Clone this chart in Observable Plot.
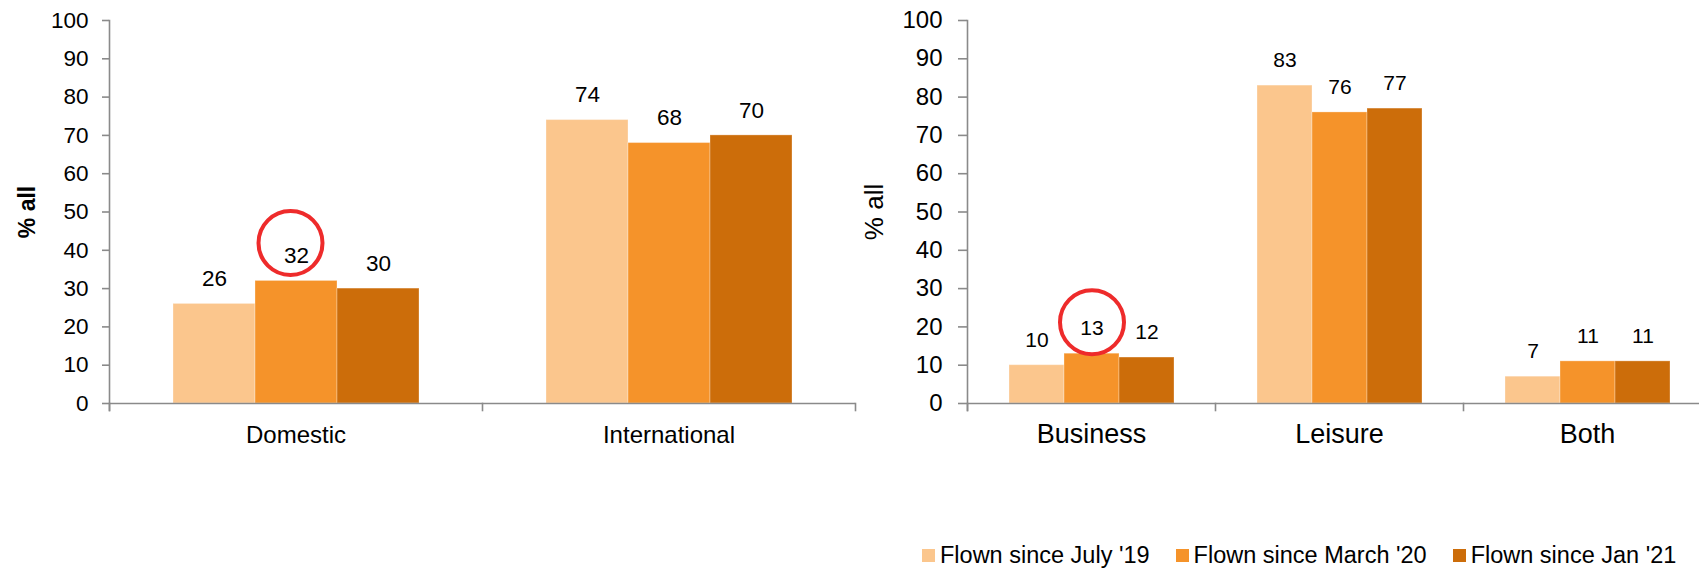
<!DOCTYPE html>
<html>
<head>
<meta charset="utf-8">
<script src="https://cdn.jsdelivr.net/npm/d3@7"></script>
<script src="https://cdn.jsdelivr.net/npm/@observablehq/plot@0.6"></script>
<style>
  html, body { margin: 0; padding: 0; background: white; overflow: hidden; }
  #wrap { position: relative; width: 1699px; height: 569px; overflow: hidden; background: white;
          font-family: "Liberation Sans", Arial, sans-serif; }
  #left { position: absolute; left: 0; top: 0; width: 860px; }
  #right { position: absolute; left: 850px; top: 0; width: 849px; }
  #left g[aria-label="y-axis label"] text { font-weight: bold; font-size: 23px; }
  #right g[aria-label="y-axis label"] text { font-weight: normal; font-size: 26px; }
  #legend { position: absolute; left: 922px; top: 542px; display: flex; align-items: center;
            font-size: 23.5px; color: black; white-space: nowrap; }
  #legend .item { display: flex; align-items: center; margin-right: 26px; }
  #legend .sw { width: 13px; height: 13px; margin-right: 5px; }
</style>
</head>
<body>
<div id="wrap">
  <div id="left"></div>
  <div id="right"></div>
  <div id="legend"></div>
</div>
<script>
// ---- data ----
const seriesNames = ["Flown since July '19", "Flown since March '20", "Flown since Jan '21"];
const seriesColors = ["#FBC68D", "#F5932A", "#CC6D0A"];

const tripCats = ["Domestic", "International"];
const tripJuly19 = [26, 74];
const tripMarch20 = [32, 68];
const tripJan21 = [30, 70];

const purposeCats = ["Business", "Leisure", "Both"];
const purposeJuly19 = [10, 83, 7];
const purposeMarch20 = [13, 76, 11];
const purposeJan21 = [12, 77, 11];

const yTicks = [0, 10, 20, 30, 40, 50, 60, 70, 80, 90, 100];
const yLabel = "% all";

const tripHighlight = [{cat: "Domestic", series: "Flown since March '20"}];
const purposeHighlight = [{cat: "Business", series: "Flown since March '20"}];

// ---- helpers ----
function buildTable(cats, seriesValues) {
  const rows = [];
  cats.forEach((c, i) => {
    seriesNames.forEach((s, j) => rows.push({cat: c, series: s, value: seriesValues[j][i]}));
  });
  return rows;
}
function withValues(hl, table) {
  return hl.map(h => table.find(r => r.cat === h.cat && r.series === h.series));
}

const axisColor = "#8A8A8A";
const plotTop = 20, plotBottom = 403, svgH = 460;
const innerH = plotBottom - plotTop;

function makeChart(o) {
  const data = buildTable(o.cats, o.values);
  const hl = withValues(o.highlight, data);
  const fxOpts = {domain: o.cats, padding: 0};
  if (o.fxRange) fxOpts.range = o.fxRange;
  const marks = [
    Plot.barY(data, {fx: "cat", x: "series", y: "value", fill: "series",
      stroke: "white", strokeOpacity: 0.3, strokeWidth: 1}),
    Plot.ruleY([0], {stroke: axisColor, strokeWidth: 1.6}),
    Plot.frame({anchor: "left", facetAnchor: "left", stroke: axisColor, strokeWidth: 1.6, insetBottom: -7}),
    Plot.frame({anchor: "left", stroke: axisColor, strokeWidth: 1.6, insetTop: innerH, insetBottom: -7}),
    Plot.axisY({ticks: yTicks, tickSize: o.tickSize, tickPadding: o.tickPadding,
      stroke: axisColor, strokeWidth: 1.6, fill: "black", fontSize: o.tickFont,
      label: yLabel, labelArrow: false, labelAnchor: "center", labelOffset: o.labelOffset}),
    Plot.axisFx({anchor: "bottom", tickSize: 0, tickPadding: o.catPadding, fontSize: o.catFont,
      fill: "black", label: null}),
    Plot.text(data, {fx: "cat", x: "series", y: "value", text: d => String(d.value),
      dy: -25, fontSize: o.valueFont, fill: "black"}),
    Plot.dot(hl, {fx: "cat", x: "series", y: "value", r: 32, fill: "none",
      stroke: "#EE2B2B", strokeWidth: 4, dx: o.hlDx, dy: o.hlDy})
  ];
  if (o.endTick) {
    marks.push(Plot.frame({anchor: "right", facetAnchor: "right", stroke: axisColor, strokeWidth: 1.6,
      insetTop: innerH, insetBottom: -7}));
  }
  return Plot.plot({
    width: o.width,
    height: svgH,
    marginTop: plotTop,
    marginBottom: svgH - plotBottom,
    marginLeft: o.marginLeft,
    marginRight: o.marginRight,
    style: {fontFamily: "'Liberation Sans', Arial, sans-serif", fontSize: "22px",
      background: "transparent", maxWidth: "none", color: "black"},
    fx: fxOpts,
    x: {domain: seriesNames, paddingInner: 0, paddingOuter: 0.75, axis: null},
    y: {domain: [0, 100]},
    color: {domain: seriesNames, range: seriesColors},
    marks
  });
}

document.getElementById("left").appendChild(makeChart({
  cats: tripCats, values: [tripJuly19, tripMarch20, tripJan21], highlight: tripHighlight,
  width: 860, marginLeft: 108, marginRight: 5,
  tickSize: 7, tickPadding: 14, tickFont: 22.5, labelOffset: 91,
  catPadding: 22, catFont: 24, valueFont: 22.5, hlDx: -6, hlDy: -38, endTick: true
}));

document.getElementById("right").appendChild(makeChart({
  cats: purposeCats, values: [purposeJuly19, purposeMarch20, purposeJan21], highlight: purposeHighlight,
  width: 849, marginLeft: 116, marginRight: 0, fxRange: [116, 861],
  tickSize: 9, tickPadding: 16, tickFont: 24, labelOffset: 103,
  catPadding: 20, catFont: 27, valueFont: 21, hlDx: 0, hlDy: -31.5, endTick: false
}));

// legend
const legend = document.getElementById("legend");
seriesNames.forEach((s, i) => {
  const item = document.createElement("div");
  item.className = "item";
  const sw = document.createElement("div");
  sw.className = "sw";
  sw.style.background = seriesColors[i];
  const t = document.createElement("span");
  t.textContent = s;
  item.appendChild(sw);
  item.appendChild(t);
  legend.appendChild(item);
});
</script>
</body>
</html>
